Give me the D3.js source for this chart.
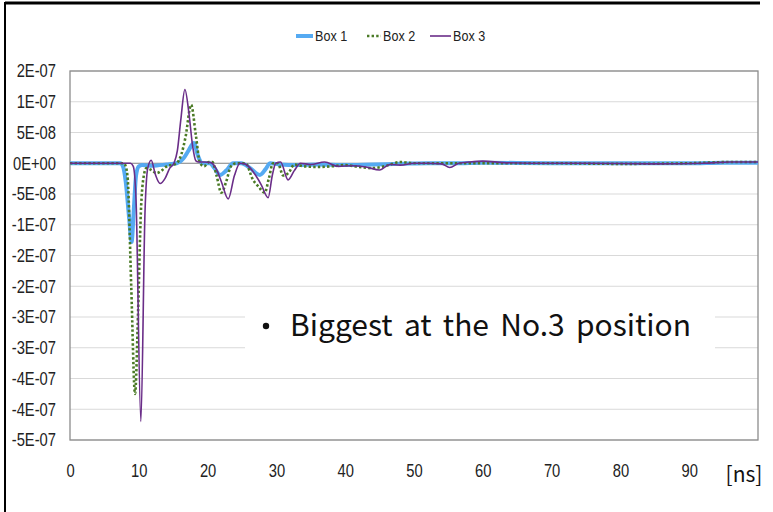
<!DOCTYPE html>
<html>
<head>
<meta charset="utf-8">
<script src="https://cdn.jsdelivr.net/npm/d3@7"></script>
<style>
  html, body { margin: 0; padding: 0; background: #fff; }
  svg { display: block; }
  .tick-label { font-family: "Liberation Sans", Arial, sans-serif; font-size: 18px; fill: #222; }
  .legend-label { font-family: "Liberation Sans", Arial, sans-serif; font-size: 15px; fill: #222; }
  .note { font-family: "Noto Sans CJK KR", "Noto Sans", sans-serif; fill: #111; }
</style>
</head>
<body>
<svg id="chart" width="773" height="512"></svg>
<script>
// Induced signal per box position, time in ns
const seriesNames = ["Box 1", "Box 2", "Box 3"];

const box1T = [0, 7.3, 7.7, 8.1, 8.6, 8.95, 9.3, 9.6, 10.0, 10.5, 12, 14, 15.5, 16.5, 17.2, 18.0, 18.6, 19.2, 20.3, 21.0, 21.8, 22.7, 23.7, 24.9, 26.2, 27.6, 28.4, 29.1, 30.5, 33, 36, 40, 44, 48, 52, 56, 60, 70, 80, 90, 95, 100];
const box1V = [0, 0, -5e-9, -3e-8, -9e-8, -1.28e-7, -7e-8, -2e-8, -5e-9, -3e-9, -4e-9, -2e-9, 0, 8e-9, 2e-8, 3.3e-8, 1.2e-8, 0, 0, -8e-9, -1.9e-8, -1.2e-8, 0, 0, -8e-9, -1.9e-8, -1e-8, 0, -2e-9, -3e-9, -2e-9, -3e-9, -2e-9, -1e-9, 0, 0, 1e-9, 0, 0, 0, 1e-9, 1e-9];

const box2T = [0, 7.8, 8.1, 8.4, 8.9, 9.45, 9.9, 10.3, 10.7, 11.1, 11.8, 12.6, 13.3, 14.0, 15.5, 16.2, 16.8, 17.6, 18.3, 18.9, 19.5, 20.2, 20.7, 21.3, 22.0, 22.7, 23.4, 24.2, 25.5, 26.6, 27.4, 28.3, 28.9, 29.5, 30.2, 31.0, 31.8, 32.6, 34, 36, 38, 40, 42, 44, 46, 48, 50, 55, 60, 70, 80, 90, 96, 100];
const box2V = [0, 0, -5e-9, -2.7e-8, -2e-7, -3.75e-7, -2.4e-7, -8e-8, -2.2e-8, -8e-9, -1.1e-8, -1.6e-8, -1.2e-8, -5.6e-9, 0, 1.5e-8, 4.3e-8, 9.5e-8, 4.5e-8, 0, -5e-9, 2e-9, 2e-9, -2e-8, -4.8e-8, -3e-8, -5e-9, 0, 0, -2.7e-8, -3.8e-8, -4.8e-8, -2.5e-8, 0, 0, -2e-8, -1.5e-8, -2e-9, -5e-9, -6e-9, -5e-9, -3e-9, -6e-9, -8e-9, -4e-9, 2e-9, 0, 0, 0, 0, -1e-9, 0, 2e-9, 2e-9];

const box3T = [0, 8.8, 9.2, 9.6, 10.3, 10.9, 11.3, 11.8, 12.4, 13.1, 13.8, 14.5, 15.1, 15.6, 16.1, 16.7, 17.3, 17.8, 18.3, 18.7, 19.5, 20.5, 21.2, 22.0, 23.0, 23.9, 24.7, 25.4, 26.2, 27.0, 27.8, 28.8, 29.4, 29.9, 30.6, 31.7, 32.6, 33.5, 35, 37, 39, 41, 43, 45, 46.5, 48, 50, 52, 54, 55.2, 56.5, 58, 60, 63, 67, 75, 85, 92, 96, 100];
const box3V = [0, 0, -5e-9, -6e-8, -4.2e-7, -8e-8, -8e-9, 5e-9, -1.8e-8, -3.3e-8, -2.5e-8, -8e-9, 0, 2e-8, 7e-8, 1.2e-7, 8e-8, 3e-8, 4e-9, 2e-9, 2e-9, 1e-9, -8e-9, -3e-8, -5.8e-8, -2e-8, 0, -1e-9, -8e-9, -2e-8, -3.5e-8, -5.6e-8, -2e-8, 0, 2e-9, -2.7e-8, -1.2e-8, 0, -2e-9, 2e-9, -5e-9, -4e-9, -6e-9, -1.1e-8, -2e-9, -3e-9, 0, 0, -1e-9, -7e-9, 0, 2e-9, 3.5e-9, 1e-9, 0, 0, -1e-9, 0, 2e-9, 2e-9];

const yTickValues = [1.5e-7, 1e-7, 5e-8, 0, -5e-8, -1e-7, -1.5e-7, -2e-7, -2.5e-7, -3e-7, -3.5e-7, -4e-7, -4.5e-7];
const yTickLabels = ["2E-07", "1E-07", "5E-08", "0E+00", "-5E-08", "-1E-07", "-2E-07", "-2E-07", "-3E-07", "-3E-07", "-4E-07", "-4E-07", "-5E-07"];
const xTickValues = [0, 10, 20, 30, 40, 50, 60, 70, 80, 90];
const xTickLabels = ["0", "10", "20", "30", "40", "50", "60", "70", "80", "90"];
const xUnitLabel = "[ns]";
const noteText = "Biggest at the No.3 position";

const colors = ["#55aaf2", "#4a7a25", "#6a2d88"];

const svg = d3.select("#chart");
const W = 773, H = 512;
const plot = { left: 70, right: 758, top: 71, bottom: 440 };
const narrow = 0.82; // horizontal squeeze for the condensed label face

const x = d3.scaleLinear().domain([0, 100]).range([plot.left, plot.right]);
const y = d3.scaleLinear().domain([-4.5e-7, 1.5e-7]).range([plot.bottom, plot.top]);

// outer frame (top and left edges)
svg.append("line").attr("x1", 5).attr("x2", 760).attr("y1", 3).attr("y2", 3)
  .attr("stroke", "#000").attr("stroke-width", 3);
svg.append("line").attr("x1", 5).attr("x2", 5).attr("y1", 2).attr("y2", H)
  .attr("stroke", "#000").attr("stroke-width", 2);

// horizontal gridlines
svg.append("g").selectAll("line")
  .data(yTickValues.filter(v => v !== 0))
  .join("line")
  .attr("x1", plot.left).attr("x2", plot.right)
  .attr("y1", d => y(d)).attr("y2", d => y(d))
  .attr("stroke", "#d9d9d9").attr("stroke-width", 1);

// zero line
svg.append("line")
  .attr("x1", plot.left).attr("x2", plot.right)
  .attr("y1", y(0)).attr("y2", y(0))
  .attr("stroke", "#7f7f7f").attr("stroke-width", 1.2);

// plot border
svg.append("rect")
  .attr("x", plot.left).attr("y", plot.top)
  .attr("width", plot.right - plot.left).attr("height", plot.bottom - plot.top)
  .attr("fill", "none").attr("stroke", "#8c8c8c").attr("stroke-width", 1.3);

// axes
const yAxis = d3.axisLeft(y).tickValues(yTickValues)
  .tickFormat((d, i) => yTickLabels[i]).tickSize(0).tickPadding(14);
const gy = svg.append("g").attr("transform", `translate(${plot.left},0)`).call(yAxis);
gy.select(".domain").remove();
gy.selectAll("text").attr("class", "tick-label")
  .attr("x", -14 / narrow).attr("transform", `scale(${narrow},1)`);

const xAxis = d3.axisBottom(x).tickValues(xTickValues)
  .tickFormat((d, i) => xTickLabels[i]).tickSize(0).tickPadding(24);
const gx = svg.append("g").attr("transform", `translate(0,${plot.bottom})`).call(xAxis);
gx.select(".domain").remove();
gx.selectAll("text").attr("class", "tick-label").attr("transform", `scale(${narrow},1)`);

svg.append("text").attr("class", "note")
  .attr("x", 744).attr("y", 482).attr("text-anchor", "middle")
  .attr("font-size", 21).text(xUnitLabel);

// series
const line = d3.line().x(d => x(d[0])).y(d => y(d[1])).curve(d3.curveMonotoneX);
const data = [
  d3.zip(box1T, box1V),
  d3.zip(box2T, box2V),
  d3.zip(box3T, box3V)
];
const styles = [
  { width: 4, dash: null },
  { width: 2.6, dash: "2.4,2.2" },
  { width: 1.6, dash: null }
];
data.forEach((pts, i) => {
  svg.append("path").datum(pts)
    .attr("d", line)
    .attr("fill", "none")
    .attr("stroke", colors[i])
    .attr("stroke-width", styles[i].width)
    .attr("stroke-dasharray", styles[i].dash)
    .attr("stroke-linejoin", "round");
});

// legend
const legendItems = [
  { sx: 296, sw: 17, tx: 315 },
  { sx: 367, sw: 14, tx: 383 },
  { sx: 430, sw: 21, tx: 453 }
];
const lg = svg.append("g");
legendItems.forEach((it, i) => {
  lg.append("line")
    .attr("x1", it.sx).attr("x2", it.sx + it.sw)
    .attr("y1", 36).attr("y2", 36)
    .attr("stroke", colors[i])
    .attr("stroke-width", styles[i].width)
    .attr("stroke-dasharray", styles[i].dash);
  lg.append("text").attr("class", "legend-label")
    .attr("transform", `translate(${it.tx},41) scale(0.84,1)`)
    .text(seriesNames[i]);
});

// annotation box
svg.append("rect").attr("x", 245).attr("y", 302).attr("width", 470).attr("height", 52)
  .attr("fill", "#fff");
svg.append("circle").attr("cx", 266).attr("cy", 326).attr("r", 3.2).attr("fill", "#111");
svg.append("text").attr("class", "note")
  .attr("x", 290).attr("y", 336).attr("font-size", 30)
  .attr("word-spacing", 4.5)
  .text(noteText);
</script>
</body>
</html>
